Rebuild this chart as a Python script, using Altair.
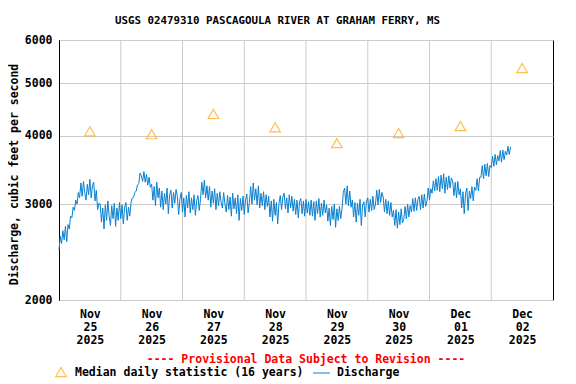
import altair as alt
import pandas as pd

# Discharge, 30-minute readings starting 2025-11-25 00:00 (cfs)
discharge = [
    2470, 2620, 2540, 2680, 2580, 2730, 2560, 2750, 2700, 2850, 2830, 2960, 2920, 3050, 3000, 3150,
    3080, 3280, 3100, 3300, 3150, 3050, 3260, 3120, 3330, 3080, 3240, 3290, 3040, 3180, 2930, 3010,
    3000, 2780, 2950, 2700, 2990, 2800, 3040, 2850, 2740, 2980, 2820, 3010, 2730, 2950, 2800, 3020,
    2820, 2990, 2760, 2950, 3020, 2800, 2960, 2850, 3020, 3080, 3090, 3150, 3170, 3250,
    3270, 3420, 3380, 3300, 3440, 3290, 3400, 3250, 3360, 3220,
    3260, 3050, 3230, 2980, 3290, 3080, 3210, 2960,
    3170, 2930, 3140, 3000, 3210, 2880, 3120, 3180, 2950, 3150, 3010, 3190,
    3100, 2870, 3060, 3150, 2900, 3080, 2840, 3110, 2950, 3160, 2890, 3080, 2930, 3120, 2860, 3040, 3110, 2920,
    3060, 3290, 3120, 3320, 3080, 3240, 3050, 3230,
    2960, 3170, 3010, 3200, 2930, 3140, 2980, 3160, 3020, 2950, 3150, 3000,
    2900, 3110, 2930, 3090, 2850, 3140, 2940, 3080, 2880, 3120, 2800, 3070, 2920, 3100, 2870, 3050, 3130, 2890,
    3020, 3230, 3000, 3280, 3050, 3200, 2990, 3240,
    2950, 3140, 2980, 3160, 2930, 3120, 2970, 3100,
    2840, 3040, 2790, 3060, 2860, 3020, 2760, 3010,
    3110, 2930, 3090, 3140, 2940, 3080, 2890, 3120, 2950, 3100, 2910, 3060,
    2870, 3050, 2830, 3030, 3070, 2880, 3040, 2850, 3060, 2890, 3030, 2860,
    3050, 2850, 3030, 2800, 3040, 2880, 3070, 2840, 3010, 2860, 3050, 2890,
    2990, 2790, 2950, 2740, 2970, 2810, 3000, 2720, 2940, 2800, 2970, 2820,
    2940, 3150, 3210, 3000, 3240, 2980, 3170, 2960,
    3050, 2840, 3020, 2780, 3010, 2860, 3060, 2740, 2990, 3030, 2840, 3040,
    3080, 2900, 3060, 2920, 3100, 2930,
    3000, 3180, 2990, 3190, 3020, 3150,
    3090, 2900, 3060, 2880, 3040, 2860, 3020, 2840,
    2920, 2740, 2930, 2710, 2900, 2750, 2940, 2770,
    2810, 2970, 2820, 3000, 2840, 2980,
    2900, 3070, 2910, 3080, 2920, 3060,
    3100, 2930, 3120, 2950, 3130, 2970,
    3040, 3210, 3050, 3200,
    3140, 3310, 3170, 3340,
    3180, 3370, 3160, 3390, 3200, 3410, 3140, 3360, 3190, 3380, 3210, 3350,
    3310, 3110, 3290, 3080, 3300, 3120,
    3200, 2950, 3160, 2880, 3130, 3210, 2920, 3170,
    3070, 3230, 3040, 3220,
    3180, 3340, 3170, 3360,
    3360, 3530, 3340, 3550,
    3380, 3560, 3370, 3530,
    3500, 3670, 3520, 3700, 3540, 3680,
    3600, 3760, 3580, 3770, 3620, 3750,
    3690, 3830, 3700, 3820,
]

median_days = ["2025-11-25T12:00:00", "2025-11-26T12:00:00", "2025-11-27T12:00:00", "2025-11-28T12:00:00",
               "2025-11-29T12:00:00", "2025-11-30T12:00:00", "2025-12-01T12:00:00", "2025-12-02T12:00:00"]
median_values = [4080, 4030, 4390, 4150, 3880, 4050, 4170, 5330]

grid_days = ["2025-11-26T00:00:00", "2025-11-27T00:00:00", "2025-11-28T00:00:00", "2025-11-29T00:00:00",
             "2025-11-30T00:00:00", "2025-12-01T00:00:00", "2025-12-02T00:00:00"]

y_ticks = [2000, 3000, 4000, 5000, 6000]

times = pd.date_range("2025-11-25 00:00", periods=len(discharge), freq="30min").strftime("%Y-%m-%dT%H:%M:%S")
df_q = pd.DataFrame({"time": list(times), "q": discharge})
df_m = pd.DataFrame({"time": median_days, "q": median_values})
df_g = pd.DataFrame({"time": grid_days})

FONT = "DejaVu Sans Mono"
BLUE = "#0a80d0"
ORANGE = "#ffa500"

xscale = alt.Scale(domain=[alt.DateTime(year=2025, month=11, date=25, hours=0),
                           alt.DateTime(year=2025, month=12, date=3, hours=0)])
yscale = alt.Scale(type="log", domain=[2000, 6000], nice=False)

label_vals = [alt.DateTime(year=2025, month=m, date=d, hours=12)
              for (m, d) in [(11, 25), (11, 26), (11, 27), (11, 28), (11, 29), (11, 30), (12, 1), (12, 2)]]

xaxis = alt.Axis(values=label_vals, grid=False, ticks=False, domain=False, title=None,
                 labelExpr="[timeFormat(datum.value, '%b'), timeFormat(datum.value, '%d'), timeFormat(datum.value, '%Y')]",
                 labelFont=FONT, labelFontSize=11.5, labelFontWeight="bold", labelColor="black",
                 labelPadding=8, labelLineHeight=13, labelBaseline="top", labelAngle=0)
yaxis = alt.Axis(values=y_ticks, format="d", grid=True, gridColor="#cccccc", ticks=False,
                 domain=True, domainColor="black", labelFont=FONT, labelFontSize=11.5,
                 labelFontWeight="bold", labelColor="black", labelPadding=7,
                 title="Discharge, cubic feet per second", titleFont=FONT, titleFontSize=11.5,
                 titleFontWeight="bold", titleColor="black", titleX=-45, titleY=134,
                 titleAngle=-90, titleAlign="center", titleBaseline="middle")

grid = alt.Chart(df_g).mark_rule(color="#cccccc", strokeWidth=1).encode(
    x=alt.X("time:T", scale=xscale, axis=xaxis)
)

line = alt.Chart(df_q).mark_line(color=BLUE, strokeWidth=1).encode(
    x=alt.X("time:T", scale=xscale),
    y=alt.Y("q:Q", scale=yscale, axis=yaxis),
)

pts = alt.Chart(df_m).mark_point(shape="triangle-up", filled=False, color=ORANGE, size=110, strokeWidth=1.2).encode(
    x=alt.X("time:T", scale=xscale),
    y=alt.Y("q:Q", scale=yscale),
)

def txt(s, x, y, color="black", align="center", size=11.5):
    return alt.Chart(pd.DataFrame({"t": [s]})).mark_text(
        font=FONT, fontSize=size, fontWeight="bold", color=color, align=align, baseline="middle"
    ).encode(text="t:N", x=alt.value(x), y=alt.value(y))

title = txt("USGS 02479310 PASCAGOULA RIVER AT GRAHAM FERRY, MS", 218.5, -19, size=10.8)
prov = txt("---- Provisional Data Subject to Revision ----", 247, 320, color="red")
leg1 = txt("Median daily statistic (16 years)", 16, 333, align="left")
leg2 = txt("Discharge", 278, 333, align="left")
leg_tri = alt.Chart(pd.DataFrame({"a": [0]})).mark_point(
    shape="triangle-up", filled=False, color=ORANGE, size=110, strokeWidth=1.2
).encode(x=alt.value(2), y=alt.value(332))
leg_line = alt.Chart(pd.DataFrame({"a": [0]})).mark_rule(color=BLUE, strokeWidth=1).encode(
    x=alt.value(254), x2=alt.value(271), y=alt.value(333)
)

chart = alt.layer(grid, line, pts, title, prov, leg1, leg2, leg_tri, leg_line).properties(
    width=494, height=260,
    autosize=alt.AutoSizeParams(type="none"),
    padding={"left": 51, "top": 32, "right": 15, "bottom": 92},
).configure_view(stroke="black", strokeWidth=1)

chart.save("out.html", embed_options={"renderer": "svg", "actions": False})
